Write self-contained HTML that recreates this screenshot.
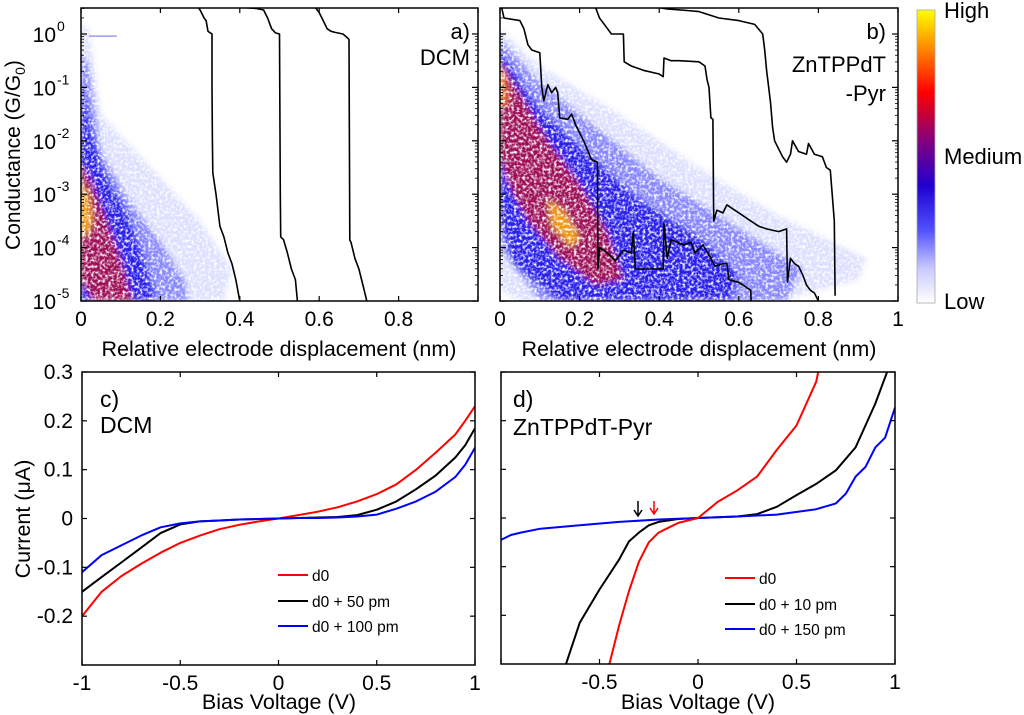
<!DOCTYPE html>
<html><head><meta charset="utf-8">
<style>
html,body{margin:0;padding:0;background:#fff;}
body{position:relative;width:1024px;height:715px;overflow:hidden;}
svg{display:block;font-family:"Liberation Sans",Arial,sans-serif;}
</style></head>
<body>
<svg id="fig" width="1024" height="715" viewBox="0 0 1024 715" xmlns="http://www.w3.org/2000/svg">
<defs>
<filter id="blur" x="-20%" y="-20%" width="140%" height="140%">
<feGaussianBlur in="SourceGraphic" stdDeviation="3" result="b"/>
<feTurbulence type="fractalNoise" baseFrequency="0.35" numOctaves="2" seed="5" result="n"/>
<feColorMatrix in="n" type="matrix" values="0 0 0 0 0  0 0 0 0 0  0 0 0 0 0  3 0 0 0 -0.7" result="m"/>
<feComposite in="b" in2="m" operator="in"/>
</filter>
<linearGradient id="cbar" x1="0" y1="1" x2="0" y2="0">
<stop offset="0" stop-color="#ffffff"/>
<stop offset="0.12" stop-color="#c8c8ff"/>
<stop offset="0.25" stop-color="#5050ff"/>
<stop offset="0.4" stop-color="#2000d0"/>
<stop offset="0.55" stop-color="#800080"/>
<stop offset="0.72" stop-color="#ff0000"/>
<stop offset="0.86" stop-color="#ff8000"/>
<stop offset="1" stop-color="#ffff00"/>
</linearGradient>
<clipPath id="clipA"><rect x="81" y="8" width="397" height="293"/></clipPath>
<clipPath id="clipB"><rect x="500" y="8" width="398" height="293"/></clipPath>
<clipPath id="clipC"><rect x="82" y="372" width="393" height="293"/></clipPath>
<clipPath id="clipD"><rect x="501" y="372" width="394" height="292"/></clipPath>
</defs>
</svg>
<script>
// ---------- data ----------
const traceA1 = [[0.295,0.5],[0.30,0.45],[0.31,0.3],[0.315,0.25],[0.32,0.05],[0.33,0.0],[0.33,-1.0],[0.331,-2.0],[0.332,-2.6],[0.34,-3.0],[0.35,-3.6],[0.36,-3.8],[0.37,-4.1],[0.38,-4.3],[0.39,-4.6],[0.395,-4.8],[0.40,-5.0]];
const traceA2 = [[0.40,0.5],[0.44,0.48],[0.46,0.45],[0.47,0.3],[0.48,0.1],[0.49,0.02],[0.50,0.0],[0.501,-1.5],[0.502,-3.0],[0.503,-3.8],[0.51,-3.85],[0.52,-4.1],[0.53,-4.4],[0.54,-4.6],[0.545,-5.0]];
const traceA3 = [[0.59,0.5],[0.60,0.4],[0.61,0.25],[0.62,0.1],[0.63,0.05],[0.64,0.03],[0.66,0.0],[0.675,-0.1],[0.676,-2.0],[0.677,-3.86],[0.68,-3.9],[0.69,-4.2],[0.70,-4.4],[0.71,-4.7],[0.72,-5.0]];
const traceB1 = [[0.004,0.5],[0.01,0.3],[0.05,0.25],[0.06,0.1],[0.07,-0.2],[0.08,-0.3],[0.10,-0.35],[0.105,-1.0],[0.11,-1.25],[0.12,-0.95],[0.13,-1.1],[0.14,-1.0],[0.145,-1.1],[0.15,-1.57],[0.17,-1.6],[0.18,-1.5],[0.19,-1.7],[0.21,-2.0],[0.23,-2.35],[0.245,-2.4],[0.246,-4.4],[0.25,-4.0],[0.27,-4.1],[0.29,-4.25],[0.31,-4.05],[0.33,-4.1],[0.335,-3.7],[0.34,-4.4],[0.37,-4.4],[0.41,-4.4],[0.412,-3.55],[0.42,-4.2],[0.43,-3.85],[0.46,-3.95],[0.48,-3.9],[0.49,-4.1],[0.51,-3.95],[0.53,-4.2],[0.54,-4.35],[0.56,-4.3],[0.57,-4.3],[0.575,-4.6],[0.60,-4.65],[0.62,-4.75],[0.63,-4.8],[0.631,-5.0]];
const traceB2 = [[0.24,0.5],[0.25,0.3],[0.26,0.2],[0.27,0.1],[0.28,0.0],[0.30,0.0],[0.31,0.0],[0.312,-0.52],[0.33,-0.6],[0.36,-0.68],[0.40,-0.75],[0.41,-0.8],[0.412,-0.45],[0.43,-0.5],[0.45,-0.5],[0.50,-0.52],[0.515,-0.6],[0.52,-0.85],[0.525,-1.0],[0.53,-1.57],[0.535,-1.6],[0.537,-3.5],[0.545,-3.3],[0.56,-3.35],[0.57,-3.2],[0.59,-3.3],[0.61,-3.4],[0.63,-3.5],[0.65,-3.6],[0.67,-3.65],[0.70,-3.7],[0.72,-3.65],[0.722,-4.65],[0.73,-4.2],[0.74,-4.3],[0.75,-4.35],[0.76,-4.5],[0.77,-4.7],[0.78,-4.8],[0.79,-4.85],[0.80,-5.0]];
const traceB3 = [[0.395,0.5],[0.42,0.47],[0.47,0.44],[0.50,0.42],[0.55,0.3],[0.60,0.25],[0.64,0.18],[0.66,0.0],[0.665,-0.3],[0.67,-0.7],[0.675,-1.0],[0.68,-1.3],[0.685,-1.75],[0.69,-2.0],[0.70,-2.15],[0.71,-2.3],[0.72,-2.4],[0.73,-2.25],[0.735,-2.0],[0.75,-2.2],[0.77,-2.25],[0.775,-2.05],[0.79,-2.25],[0.81,-2.3],[0.82,-2.5],[0.83,-2.55],[0.84,-3.5],[0.842,-4.9]];
const densA = {
  faint:[[0,0.2],[0.02,0.1],[0.05,-1.5],[0.15,-2.3],[0.3,-3.5],[0.38,-4.4],[0.36,-5],[0,-5]],
  light:[[0,-0.3],[0.02,-0.6],[0.05,-2.2],[0.12,-3.1],[0.2,-3.9],[0.26,-4.6],[0.27,-5],[0,-5]],
  blue:[[0,-0.8],[0.03,-1.9],[0.06,-2.6],[0.12,-3.4],[0.16,-4.2],[0.19,-5],[0,-5]],
  red:[[0,-2.4],[0.03,-2.8],[0.06,-3.4],[0.1,-4.2],[0.13,-5],[0.03,-5],[0,-4.6]],
  hot:[[0,-2.8],[0.02,-3.0],[0.03,-3.5],[0.015,-3.8],[0,-3.7]]
};
const densB = {
  faint:[[0,0.1],[0.1,-0.6],[0.3,-1.5],[0.5,-2.5],[0.7,-3.4],[0.92,-4.2],[0.9,-4.6],[0.7,-5],[0.05,-5],[0,-4.8]],
  light:[[0,-0.1],[0.1,-0.9],[0.25,-1.8],[0.4,-2.7],[0.55,-3.4],[0.76,-4.4],[0.72,-5],[0.1,-5],[0,-4]],
  blue:[[0,-0.3],[0.1,-1.4],[0.2,-2.1],[0.35,-3.1],[0.5,-3.8],[0.6,-4.5],[0.58,-5],[0.15,-5],[0.03,-4.3],[0,-3.5]],
  red:[[0,-0.5],[0.05,-1.1],[0.12,-2.0],[0.2,-2.8],[0.27,-3.7],[0.31,-4.6],[0.24,-4.7],[0.15,-4.2],[0.07,-3.5],[0.02,-2.8],[0,-2.3]],
  hot:[[0.12,-3.1],[0.16,-3.3],[0.2,-3.8],[0.18,-4.0],[0.13,-3.6]],
  hot2:[[0,-0.6],[0.015,-0.7],[0.02,-1.3],[0,-1.4]]
};
const vC = [-1,-0.9,-0.8,-0.7,-0.6,-0.5,-0.4,-0.3,-0.2,-0.1,0,0.1,0.2,0.3,0.4,0.5,0.6,0.7,0.8,0.9,0.95,1];
const iC_d0   = [-0.2,-0.15,-0.118,-0.093,-0.07,-0.05,-0.035,-0.022,-0.013,-0.006,0,0.007,0.014,0.023,0.035,0.05,0.07,0.1,0.135,0.172,0.2,0.23];
const iC_d50  = [-0.15,-0.12,-0.09,-0.06,-0.03,-0.012,-0.006,-0.004,-0.002,-0.001,0,0.001,0.002,0.003,0.007,0.018,0.035,0.06,0.088,0.125,0.15,0.185];
const iC_d100 = [-0.11,-0.075,-0.055,-0.035,-0.018,-0.01,-0.006,-0.004,-0.002,-0.001,0,0.001,0.001,0.002,0.004,0.008,0.02,0.035,0.055,0.085,0.11,0.145];
const vD_red = [-0.45,-0.4,-0.35,-0.3,-0.25,-0.2,-0.15,-0.1,0,0.1,0.2,0.3,0.4,0.5,0.6,0.61];
const iD_red = [-0.3,-0.22,-0.15,-0.09,-0.05,-0.03,-0.02,-0.01,0,0.033,0.057,0.085,0.14,0.19,0.28,0.3];
const vD_blk = [-0.67,-0.6,-0.5,-0.4,-0.35,-0.3,-0.25,-0.2,-0.1,0,0.2,0.3,0.4,0.5,0.6,0.7,0.8,0.9,0.96];
const iD_blk = [-0.3,-0.215,-0.147,-0.085,-0.048,-0.03,-0.015,-0.008,-0.002,0,0.003,0.008,0.023,0.047,0.07,0.098,0.145,0.235,0.3];
const vD_blu = [-1,-0.95,-0.9,-0.8,-0.6,-0.4,-0.2,0,0.2,0.4,0.6,0.7,0.75,0.8,0.85,0.9,0.95,1];
const iD_blu = [-0.045,-0.035,-0.03,-0.022,-0.015,-0.008,-0.003,0,0.003,0.007,0.018,0.03,0.05,0.085,0.105,0.145,0.165,0.227];
const xTicksLin = [0,0.2,0.4,0.6,0.8,1];
const xTickLabelsA = ["0","0.2","0.4","0.6","0.8",""];
const xTickLabelsB = ["0","0.2","0.4","0.6","0.8","1"];
const yTicksLog = [0,-1,-2,-3,-4,-5];
const yTickExps = ["0","-1","-2","-3","-4","-5"];
const vTicks = [-1,-0.5,0,0.5,1];
const vTickLabelsC = ["-1","-0.5","0","0.5","1"];
const vTickLabelsD = ["","-0.5","0","0.5","1"];
const iTicks = [0.3,0.2,0.1,0,-0.1,-0.2];
const iTickLabels = ["0.3","0.2","0.1","0","-0.1","-0.2"];

// ---------- helpers ----------
const svg = document.getElementById('fig');
const NS = 'http://www.w3.org/2000/svg';
function el(tag, attrs, parent){
  const e = document.createElementNS(NS, tag);
  for (const k in attrs) e.setAttribute(k, attrs[k]);
  (parent||svg).appendChild(e);
  return e;
}
function scale(d0,d1,r0,r1){ return v => r0 + (v-d0)/(d1-d0)*(r1-r0); }
const A = {x0:81,x1:478,y0:8,y1:301,xs:scale(0,1,81,478),ys:scale(0,-5,34,301)};
const B = {x0:500,x1:898,y0:8,y1:301,xs:scale(0,1,500,898),ys:scale(0,-5,34,301)};
const C = {x0:82,x1:475,y0:372,y1:665,xs:scale(-1,1,82,475),ys:scale(0.3,-0.3,372,665)};
const D = {x0:501,x1:895,y0:372,y1:664,xs:scale(-1,1,501,895),ys:scale(0.3,-0.3,372,664)};
function pathFrom(P, xs, ys){
  return P.map((p,i)=>(i?'L':'M')+xs(p[0]).toFixed(1)+','+ys(p[1]).toFixed(1)).join('');
}
function txt(x,y,s,size,anchor,parent){
  const t = el('text',{x:x,y:y,'font-size':size,'text-anchor':anchor||'start',fill:'#000'},parent);
  t.textContent = s;
  return t;
}

// ---------- density maps ----------
const densColors = {faint:['#c0c4ff',0.55],light:['#7070ff',0.8],blue:['#1a10e8',0.85],red:['#d00818',0.7],hot:['#ffb000',0.85],hot2:['#ff8000',0.8]};
function drawDensity(P, dens, clip, name){
  const outer = el('g',{'clip-path':'url(#'+clip+')'});
  const g = el('g',{filter:'url(#blur)'},outer);
  
  
  for (const k in dens){
    const p = el('path',{d:pathFrom(dens[k],P.xs,P.ys)+'Z',fill:densColors[k][0],'fill-opacity':densColors[k][1]},g);
    
    
  }
}
drawDensity(A, densA, 'clipA', 'histogram-a');
drawDensity(B, densB, 'clipB', 'histogram-b');
const fl = el('line',{x1:A.xs(0.02),x2:A.xs(0.09),y1:A.ys(-0.04),y2:A.ys(-0.04),stroke:'#9a9aff','stroke-width':1.5});



// ---------- traces ----------
function drawLine(P, pts, clip, color, w, name){
  const p = el('path',{d:pathFrom(pts,P.xs,P.ys),fill:'none',stroke:color,'stroke-width':w,'stroke-linejoin':'round','clip-path':'url(#'+clip+')'});
  
  
}
drawLine(A, traceA1, 'clipA', '#000', 1.6, 'trace-a1');
drawLine(A, traceA2, 'clipA', '#000', 1.6, 'trace-a2');
drawLine(A, traceA3, 'clipA', '#000', 1.6, 'trace-a3');
drawLine(B, traceB1, 'clipB', '#000', 1.6, 'trace-b1');
drawLine(B, traceB2, 'clipB', '#000', 1.6, 'trace-b2');
drawLine(B, traceB3, 'clipB', '#000', 1.6, 'trace-b3');
function zip(v,i){ return v.map((x,k)=>[x,i[k]]); }
drawLine(C, zip(vC,iC_d0), 'clipC', '#ff0000', 2, 'iv-c-d0');
drawLine(C, zip(vC,iC_d50), 'clipC', '#000000', 2, 'iv-c-d0-50pm');
drawLine(C, zip(vC,iC_d100), 'clipC', '#0000ff', 2, 'iv-c-d0-100pm');
drawLine(D, zip(vD_blk,iD_blk), 'clipD', '#000000', 2, 'iv-d-d0-10pm');
drawLine(D, zip(vD_blu,iD_blu), 'clipD', '#0000ff', 2, 'iv-d-d0-150pm');
drawLine(D, zip(vD_red,iD_red), 'clipD', '#ff0000', 2, 'iv-d-d0');

// ---------- axes ----------
function frame(P, name){
  const r = el('rect',{x:P.x0,y:P.y0,width:P.x1-P.x0,height:P.y1-P.y0,fill:'none',stroke:'#000','stroke-width':1.5});
  
  
}
function xTicks(P, ticks, labels, name){
  const g = el('g',{});
  
  
  ticks.forEach((t,i)=>{
    const x = P.xs(t);
    el('line',{x1:x,x2:x,y1:P.y1,y2:P.y1-5,stroke:'#000','stroke-width':1.2},g);
    el('line',{x1:x,x2:x,y1:P.y0,y2:P.y0+5,stroke:'#000','stroke-width':1.2},g);
    if (labels[i]) txt(x, P.y1+25, labels[i], 21, 'middle', g);
  });
}
function yTicksLinear(P, ticks, labels, name){
  const g = el('g',{});
  
  
  ticks.forEach((t,i)=>{
    const y = P.ys(t);
    el('line',{x1:P.x0,x2:P.x0+5,y1:y,y2:y,stroke:'#000','stroke-width':1.2},g);
    el('line',{x1:P.x1,x2:P.x1-5,y1:y,y2:y,stroke:'#000','stroke-width':1.2},g);
    if (labels && labels[i]) txt(P.x0-9, y+7, labels[i], 21, 'end', g);
  });
}
function yTicksLogDraw(P, labelled, name){
  const g = el('g',{});
  
  
  for (let d=0; d>=-5; d--){
    const y = P.ys(d);
    el('line',{x1:P.x0,x2:P.x0+6,y1:y,y2:y,stroke:'#000','stroke-width':1.2},g);
    el('line',{x1:P.x1,x2:P.x1-6,y1:y,y2:y,stroke:'#000','stroke-width':1.2},g);
    for (let m=2;m<=9;m++){
      const ym = P.ys(d-1+Math.log10(m));
      if (ym < P.y1 - 0.5) {
        el('line',{x1:P.x0,x2:P.x0+3,y1:ym,y2:ym,stroke:'#000','stroke-width':0.8},g);
        el('line',{x1:P.x1,x2:P.x1-3,y1:ym,y2:ym,stroke:'#000','stroke-width':0.8},g);
      }
    }
    if (d===0){ for (let m=2;m<=3;m++){ const ym=P.ys(Math.log10(m)); el('line',{x1:P.x0,x2:P.x0+3,y1:ym,y2:ym,stroke:'#000','stroke-width':0.8},g);} }
  }
  if (labelled){
    yTicksLog.forEach((t,i)=>{
      const y = P.ys(t);
      const t1 = el('text',{x:P.x0-25,y:y+8,'font-size':21,'text-anchor':'end',fill:'#000'},g);
      t1.textContent = '10';
      const t2 = el('text',{x:P.x0-24,y:y-3,'font-size':14,'text-anchor':'start',fill:'#000'},g);
      t2.textContent = yTickExps[i];
    });
  }
}
frame(A,'axes-a'); frame(B,'axes-b'); frame(C,'axes-c'); frame(D,'axes-d');
xTicks(A, xTicksLin, xTickLabelsA, 'x-ticks-a');
xTicks(B, xTicksLin, xTickLabelsB, 'x-ticks-b');
yTicksLogDraw(A, true, 'y-ticks-a');
yTicksLogDraw(B, false, 'y-ticks-b');
xTicks(C, vTicks, vTickLabelsC, 'x-ticks-c');
xTicks(D, vTicks, vTickLabelsD, 'x-ticks-d');
yTicksLinear(C, iTicks, iTickLabels, 'y-ticks-c');
yTicksLinear(D, iTicks, null, 'y-ticks-d');
</script>
<svg style="position:absolute;left:0;top:0" width="1024" height="715" viewBox="0 0 1024 715" xmlns="http://www.w3.org/2000/svg" font-family="Liberation Sans, Arial, sans-serif">
<g>
<text x="279" y="356" font-size="21.5" text-anchor="middle">Relative electrode displacement (nm)</text>
<text x="699" y="356" font-size="21.5" text-anchor="middle">Relative electrode displacement (nm)</text>
<text transform="translate(20,155) rotate(-90)" font-size="21" text-anchor="middle">Conductance (G/G<tspan font-size="14" dy="5">0</tspan><tspan dy="-5">)</tspan></text>
<text x="279" y="709" font-size="21.5" text-anchor="middle">Bias Voltage (V)</text>
<text x="698" y="709" font-size="21.5" text-anchor="middle">Bias Voltage (V)</text>
<text transform="translate(30,519) rotate(-90)" font-size="21.5" text-anchor="middle">Current (μA)</text>
</g>
<g>
<text x="470" y="39" font-size="22" text-anchor="end">a)</text>
<text x="470" y="65" font-size="22" text-anchor="end">DCM</text>
<text x="886" y="39" font-size="22" text-anchor="end">b)</text>
<text x="886" y="72" font-size="22" text-anchor="end">ZnTPPdT</text>
<text x="886" y="101" font-size="22" text-anchor="end">-Pyr</text>
<text x="100" y="407" font-size="23">c)</text>
<text x="100" y="433" font-size="23">DCM</text>
<text x="513" y="407" font-size="23">d)</text>
<text x="513" y="435" font-size="23">ZnTPPdT-Pyr</text>
</g>
<g>
<rect x="917" y="10" width="18" height="293" fill="url(#cbar)" stroke="#aaa" stroke-width="0.8"/>
<text x="944" y="18" font-size="22">High</text>
<text x="944" y="164" font-size="22">Medium</text>
<text x="944" y="309" font-size="22">Low</text>
</g>
<g>
<line x1="278" y1="575" x2="308" y2="575" stroke="#f00" stroke-width="2"/>
<text x="312" y="581" font-size="15.5">d0</text>
<line x1="278" y1="601" x2="308" y2="601" stroke="#000" stroke-width="2"/>
<text x="312" y="607" font-size="15.5">d0 + 50 pm</text>
<line x1="278" y1="626" x2="308" y2="626" stroke="#00f" stroke-width="2"/>
<text x="312" y="632" font-size="15.5">d0 + 100 pm</text>
</g>
<g>
<line x1="725" y1="578" x2="755" y2="578" stroke="#f00" stroke-width="2"/>
<text x="759" y="584" font-size="15.5">d0</text>
<line x1="725" y1="604" x2="755" y2="604" stroke="#000" stroke-width="2"/>
<text x="759" y="610" font-size="15.5">d0 + 10 pm</text>
<line x1="725" y1="629" x2="755" y2="629" stroke="#00f" stroke-width="2"/>
<text x="759" y="635" font-size="15.5">d0 + 150 pm</text>
</g>
<g>
<path d="M638,501 L638,516 M634,510 L638,516 L642,510" stroke="#000" stroke-width="1.5" fill="none"/>
<path d="M654,501 L654,514 M650,508 L654,514 L658,508" stroke="#f00" stroke-width="1.5" fill="none"/>
</g>
</svg>
</body></html>
